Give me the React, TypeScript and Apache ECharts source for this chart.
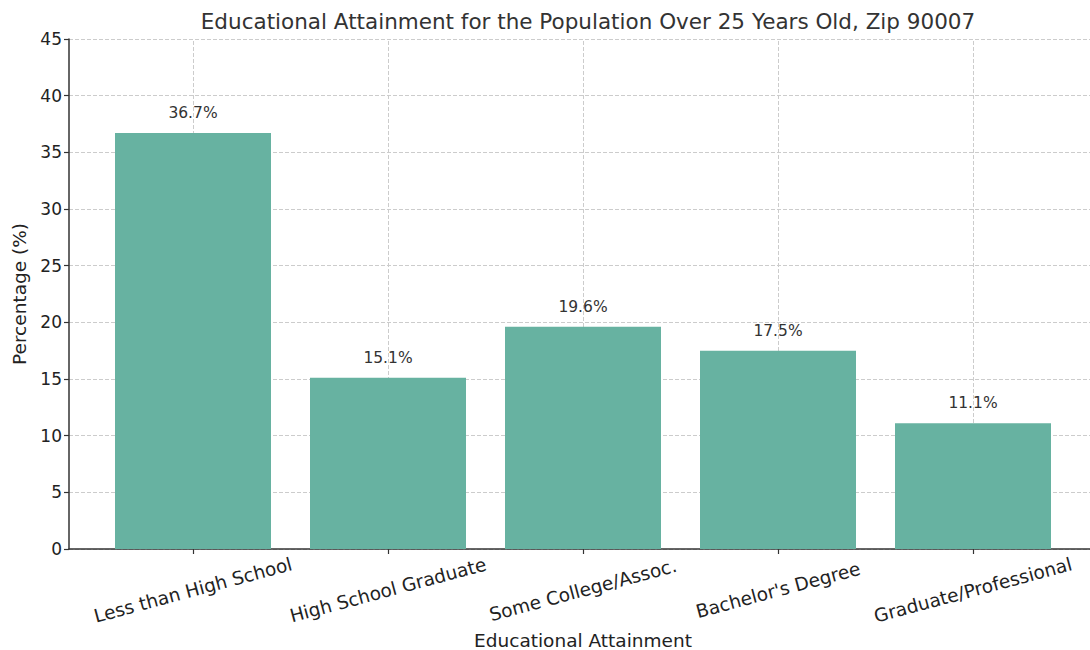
import React, { useEffect, useRef } from "react";
import * as echarts from "echarts";

const categories = [
  "Less than High School",
  "High School Graduate",
  "Some College/Assoc.",
  "Bachelor's Degree",
  "Graduate/Professional",
];
const percentages = [36.7, 15.1, 19.6, 17.5, 11.1];
const yMin = 0;
const yMax = 45;
const yStep = 5;

const TITLE = "Educational Attainment for the Population Over 25 Years Old, Zip 90007";
const FONT = "DejaVu Sans";

export default function App() {
  const ref = useRef<HTMLDivElement>(null);
  useEffect(() => {
    if (!ref.current) return;
    const chart = echarts.init(ref.current, undefined, { renderer: "svg" });
    const gridTop = 39;
    const gridBottom = 650 - 549;
    chart.setOption({
      animation: false,
      backgroundColor: "#ffffff",
      title: {
        text: TITLE,
        left: 583,
        top: 5,
        textAlign: "center",
        textStyle: { fontFamily: FONT, fontSize: 21.5, fontWeight: "normal", color: "#333333" },
      },
      grid: [
        { left: 69, top: gridTop, bottom: gridBottom, width: 1029, outerBoundsMode: "none", containLabel: false },
        { left: 95.5, top: gridTop, bottom: gridBottom, width: 975, outerBoundsMode: "none", containLabel: false },
      ],
      xAxis: [
        {
          type: "value",
          gridIndex: 0,
          min: 0,
          max: 1,
          axisLine: { show: true, lineStyle: { color: "#333333", width: 1.5 } },
          axisTick: { show: false },
          axisLabel: { show: false },
          splitLine: { show: false },
        },
        {
          type: "category",
          gridIndex: 1,
          data: categories,
          axisLine: { show: false },
          axisTick: { show: true, alignWithLabel: true, length: 5, lineStyle: { color: "#333333", width: 1.2 } },
          axisLabel: {
            rotate: 15,
            align: "center",
            verticalAlign: "middle",
            margin: 41,
            fontFamily: FONT,
            fontSize: 18.5,
            color: "#222222",
            interval: 0,
          },
          name: "Educational Attainment",
          nameLocation: "middle",
          nameGap: 77,
          nameTextStyle: { fontFamily: FONT, fontSize: 18.5, color: "#222222" },
          splitLine: { show: false },
        },
      ],
      yAxis: [
        {
          type: "value",
          gridIndex: 0,
          min: yMin,
          max: yMax,
          interval: yStep,
          axisLine: { show: true, lineStyle: { color: "#333333", width: 1.5 } },
          axisTick: { show: true, length: 5, lineStyle: { color: "#333333", width: 1.2 } },
          axisLabel: { fontFamily: FONT, fontSize: 17, color: "#222222", margin: 7 },
          splitLine: { show: true, lineStyle: { color: "#cccccc", type: "dashed", width: 1 } },
          name: "Percentage (%)",
          nameLocation: "middle",
          nameGap: 37,
          nameTextStyle: { fontFamily: FONT, fontSize: 18.5, color: "#222222" },
        },
        {
          type: "value",
          gridIndex: 1,
          min: yMin,
          max: yMax,
          interval: yStep,
          show: false,
          splitLine: { show: false },
        },
      ],
      series: [
        {
          type: "bar",
          xAxisIndex: 1,
          yAxisIndex: 1,
          data: percentages,
          barWidth: "80%",
          itemStyle: { color: "#67b2a1" },
          label: {
            show: true,
            position: "top",
            distance: 12,
            formatter: (p: any) => `${Number(p.value).toFixed(1)}%`,
            fontFamily: FONT,
            fontSize: 15.5,
            color: "#333333",
          },
          markLine: {
            silent: true,
            symbol: "none",
            label: { show: false },
            lineStyle: { color: "#cccccc", type: "dashed", width: 1 },
            z: 0,
            data: categories.map((c) => ({ xAxis: c })),
          },
        },
      ],
    });
    return () => chart.dispose();
  }, []);
  return (
    <div
      ref={ref}
      style={{ position: "absolute", left: 0, top: 0, width: 1090, height: 650 }}
    />
  );
}
